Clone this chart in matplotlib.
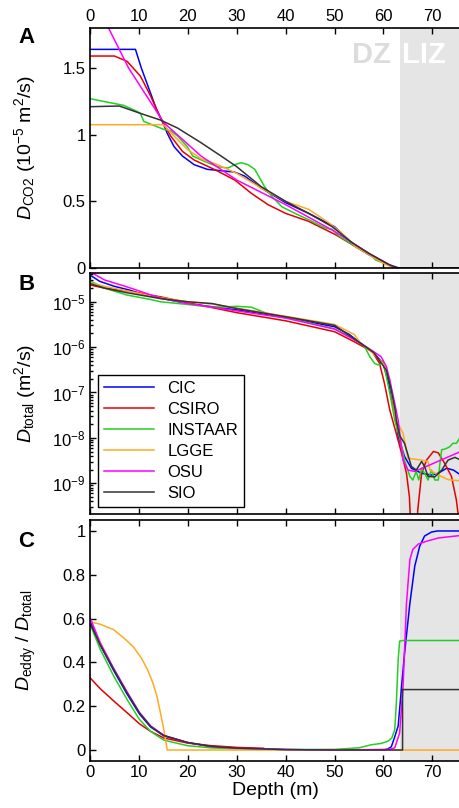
import numpy as np
import matplotlib
matplotlib.use('Agg')
import matplotlib.pyplot as plt
from matplotlib.ticker import FuncFormatter, LogLocator, NullFormatter

plt.rcParams['font.family'] = 'Liberation Sans'
plt.rcParams['mathtext.fontset'] = 'custom'
plt.rcParams['mathtext.rm'] = 'Liberation Sans'
plt.rcParams['mathtext.it'] = 'Liberation Sans:italic'
plt.rcParams['mathtext.bf'] = 'Liberation Sans:bold'

models = ['CIC', 'CSIRO', 'INSTAAR', 'LGGE', 'OSU', 'SIO']
colors = ['#0000ff', '#e60000', '#22d022', '#ffaa22', '#ff00ff', '#333333']
liz_start = 63.3

# panel A: D_CO2 (1e-5 m2/s) vs depth
a_cic_x = [0, 9.3, 10.5, 12, 13.5, 14.8, 15.8, 17.2, 18.9, 21.3, 24, 26.8, 29.5, 31.6, 35, 40, 44.7, 50, 54.3, 57, 60, 62.5, 76]
a_cic_y = [1.64, 1.64, 1.50, 1.35, 1.20, 1.10, 1.01, 0.91, 0.84, 0.775, 0.74, 0.73, 0.72, 0.69, 0.60, 0.49, 0.41, 0.31, 0.16, 0.10, 0.04, 0, 0]
a_csiro_x = [0, 5, 7.6, 10.3, 12.4, 14.4, 16.5, 18.9, 21.3, 25.4, 29.6, 33, 36.4, 40, 44.7, 50.2, 54.3, 58.4, 61.2, 62.5, 76]
a_csiro_y = [1.59, 1.59, 1.55, 1.44, 1.29, 1.125, 0.99, 0.875, 0.81, 0.74, 0.66, 0.56, 0.475, 0.41, 0.35, 0.25, 0.16, 0.075, 0.02, 0, 0]
a_instaar_x = [0, 4.1, 6.9, 9.6, 10.3, 11, 13.7, 15.1, 16.5, 17.9, 19.9, 21, 23.4, 26.1, 28.2, 29.6, 30.9, 32.3, 33.7, 35.7, 37.1, 39.2, 41.9, 45.4, 48.1, 49.5, 50.9, 54.3, 57, 58.4, 59.8, 61.9, 63, 76]
a_instaar_y = [1.27, 1.24, 1.22, 1.175, 1.16, 1.10, 1.06, 1.04, 1.03, 0.99, 0.91, 0.84, 0.80, 0.76, 0.75, 0.775, 0.79, 0.775, 0.74, 0.61, 0.54, 0.46, 0.41, 0.35, 0.30, 0.29, 0.24, 0.16, 0.11, 0.06, 0.04, 0.01, 0, 0]
a_lgge_x = [0, 15, 17.2, 19.9, 22.7, 26.1, 30, 35, 40, 44.7, 48.8, 51.5, 54.3, 57, 60.5, 62.5, 76]
a_lgge_y = [1.075, 1.075, 0.99, 0.89, 0.82, 0.775, 0.71, 0.60, 0.50, 0.44, 0.34, 0.26, 0.16, 0.10, 0.025, 0, 0]
a_osu_x = [0, 3.8, 7.9, 15.1, 22.7, 30, 40, 50, 57, 61.9, 63, 76]
a_osu_y = [2.08, 1.80, 1.50, 1.09, 0.84, 0.66, 0.475, 0.275, 0.11, 0.01, 0, 0]
a_sio_x = [0, 6, 10.3, 14.4, 17.9, 22.7, 26.8, 30, 35, 40, 44.7, 49.5, 53.6, 57, 61.2, 63.2, 76]
a_sio_y = [1.21, 1.215, 1.16, 1.11, 1.05, 0.94, 0.84, 0.76, 0.61, 0.50, 0.41, 0.31, 0.19, 0.11, 0.025, 0, 0]

# panel B: log10 of D_total (m2/s) vs depth
b_cic_x = [0, 2, 5, 8, 11, 14.4, 20, 25, 30, 40, 50, 53, 55.4, 58, 59.9, 60.9, 61.9, 62.6, 63.0, 64.3, 65.7, 67.8, 69.8, 71.2, 72.9, 74.3, 75.8]
b_cic_log = [-4.41, -4.55, -4.66, -4.74, -4.84, -4.92, -5.04, -5.11, -5.18, -5.35, -5.55, -5.72, -5.92, -6.12, -6.36, -6.73, -7.24, -7.61, -7.97, -8.41, -8.67, -8.78, -8.82, -8.78, -8.67, -8.71, -8.82]
b_csiro_x = [0, 3, 7.5, 14.4, 20, 30, 40, 50, 54, 57.7, 59.2, 60.2, 61.3, 62.6, 63.7, 64.7, 65.3, 65.8, 66.6, 67.0, 67.8, 68.8, 70.2, 71.2, 72.5, 73.9, 74.9, 75.4, 75.8]
b_csiro_log = [-4.63, -4.70, -4.76, -4.89, -5.02, -5.24, -5.42, -5.66, -5.88, -6.10, -6.36, -6.80, -7.39, -7.90, -8.34, -8.78, -9.3, -10.5, -10.5, -9.6, -8.78, -8.49, -8.30, -8.33, -8.56, -8.85, -9.37, -9.8, -10.5]
b_instaar_x = [0, 3, 7.5, 12.4, 14.4, 20, 25, 28, 30, 33, 36, 40, 45, 50, 54, 55.4, 56.1, 57.2, 58.2, 59.2, 59.9, 61.3, 62.3, 63.3, 64.3, 65.4, 66.0, 66.7, 67.2, 67.8, 68.4, 69.1, 69.8, 70.5, 71.2, 71.5, 71.9, 72.5, 73.5, 74.2, 74.9, 75.8]
b_instaar_log = [-4.54, -4.70, -4.85, -4.95, -5.0, -5.06, -5.12, -5.11, -5.10, -5.12, -5.25, -5.35, -5.47, -5.60, -5.82, -5.92, -5.98, -6.21, -6.36, -6.40, -6.29, -7.02, -7.61, -8.0, -8.49, -8.85, -8.93, -8.74, -8.93, -8.67, -8.78, -8.93, -8.71, -8.93, -8.93, -8.60, -8.26, -8.25, -8.20, -8.12, -8.12, -7.97]
b_lgge_x = [0, 3, 7.5, 14.4, 20, 25, 30, 40, 50, 54, 55.4, 58, 60.2, 61.3, 61.9, 62.6, 64.0, 65.0, 67.8, 69.1, 69.5, 71.2, 73.2, 75.8]
b_lgge_log = [-4.58, -4.66, -4.76, -4.91, -5.0, -5.05, -5.14, -5.32, -5.50, -5.72, -5.92, -6.15, -6.40, -6.73, -7.17, -7.61, -7.90, -8.45, -8.49, -8.52, -8.71, -8.82, -8.92, -8.95]
b_osu_x = [0, 1, 3, 7.5, 14.4, 20, 30, 40, 50, 55.4, 58, 59.5, 60.6, 61.3, 62.3, 63.0, 64.0, 65.0, 66.4, 75.8]
b_osu_log = [-4.3, -4.4, -4.52, -4.67, -4.92, -5.04, -5.20, -5.36, -5.60, -5.92, -6.10, -6.21, -6.43, -6.73, -7.24, -7.61, -8.49, -8.71, -8.74, -8.30]
b_sio_x = [0, 3, 7.5, 14.4, 20, 25, 30, 40, 50, 55.4, 58, 60.6, 61.6, 62.4, 62.6, 63.3, 64.3, 65.7, 66.7, 67.8, 68.4, 69.1, 70.5, 71.9, 73.2, 74.6, 75.8]
b_sio_log = [-4.60, -4.70, -4.80, -4.93, -5.0, -5.04, -5.15, -5.33, -5.52, -5.92, -6.12, -6.51, -6.95, -7.39, -7.60, -7.95, -8.12, -8.63, -8.71, -8.52, -8.63, -8.85, -8.86, -8.71, -8.49, -8.43, -8.49]

# panel C: D_eddy / D_total vs depth
c_cic_x = [0, 2.1, 4.8, 7.6, 10.1, 12.4, 15.1, 19.9, 24.7, 30, 40, 50, 60, 60.9, 61.6, 62.3, 63.0, 63.7, 64.3, 65.4, 66.4, 67.4, 68.4, 69.8, 71, 76]
c_cic_y = [0.59, 0.48, 0.365, 0.255, 0.165, 0.105, 0.065, 0.034, 0.016, 0.008, 0.002, 0, 0, 0.005, 0.015, 0.06, 0.11, 0.29, 0.44, 0.67, 0.84, 0.93, 0.977, 0.995, 1.0, 1.0]
c_csiro_x = [0, 2.1, 4.8, 7.6, 10.1, 12.4, 15.1, 19.9, 24.7, 30, 35.5]
c_csiro_y = [0.33, 0.28, 0.225, 0.17, 0.12, 0.085, 0.055, 0.032, 0.02, 0.012, 0.008]
c_instaar_x = [0, 2.1, 4.8, 7.6, 10.1, 12.4, 15.1, 19.9, 24.7, 30, 40, 50, 55, 57.5, 59.5, 60.9, 61.7, 62.3, 62.6, 63.0, 63.3, 64, 76]
c_instaar_y = [0.575, 0.46, 0.34, 0.23, 0.14, 0.085, 0.045, 0.02, 0.01, 0.005, 0.002, 0.003, 0.01, 0.024, 0.03, 0.04, 0.055, 0.093, 0.2, 0.41, 0.497, 0.5, 0.5]
c_lgge_x = [0, 2, 4.8, 7, 8.9, 10.5, 11.7, 12.8, 13.7, 14.4, 15.1, 15.8, 76]
c_lgge_y = [0.585, 0.575, 0.55, 0.51, 0.47, 0.42, 0.37, 0.31, 0.245, 0.17, 0.093, 0, 0]
c_osu_x = [0, 2.1, 4.8, 7.6, 10.1, 12.4, 15.1, 19.9, 24.7, 30, 40, 50, 61.2, 62.3, 63.3, 64.0, 64.7, 65.4, 66.0, 67.1, 68.8, 71.2, 76]
c_osu_y = [0.605, 0.49, 0.375, 0.265, 0.172, 0.11, 0.067, 0.034, 0.016, 0.008, 0.002, 0, 0.003, 0.01, 0.078, 0.29, 0.67, 0.87, 0.916, 0.94, 0.953, 0.968, 0.98]
c_sio_x = [0, 2.1, 4.8, 7.6, 10.1, 12.4, 15.1, 19.9, 24.7, 30, 40, 50, 63.9, 63.9, 76]
c_sio_y = [0.58, 0.48, 0.37, 0.26, 0.17, 0.108, 0.066, 0.035, 0.017, 0.009, 0.002, 0, 0, 0.276, 0.276]

a_data = [(a_cic_x, a_cic_y), (a_csiro_x, a_csiro_y), (a_instaar_x, a_instaar_y),
          (a_lgge_x, a_lgge_y), (a_osu_x, a_osu_y), (a_sio_x, a_sio_y)]
b_data = [(b_cic_x, b_cic_log), (b_csiro_x, b_csiro_log), (b_instaar_x, b_instaar_log),
          (b_lgge_x, b_lgge_log), (b_osu_x, b_osu_log), (b_sio_x, b_sio_log)]
c_data = [(c_cic_x, c_cic_y), (c_csiro_x, c_csiro_y), (c_instaar_x, c_instaar_y),
          (c_lgge_x, c_lgge_y), (c_osu_x, c_osu_y), (c_sio_x, c_sio_y)]

TICK = 12
LABEL = 14


def style_axis(ax):
    ax.set_xlim(0, 76)
    ax.axvspan(liz_start, 76, color='#e5e5e5', zorder=0, lw=0)
    for s in ['top', 'bottom', 'left']:
        ax.spines[s].set_linewidth(1.2)
    ax.spines['right'].set_visible(False)
    ax.tick_params(which='both', direction='in', top=True, bottom=True, right=False,
                   labelsize=TICK, width=1, pad=3)
    ax.tick_params(which='major', length=4)
    ax.tick_params(which='minor', length=2)
    ax.set_xticks(np.arange(0, 80, 10))
    ax.yaxis.set_label_coords(-0.14, 0.5)


gfmt = FuncFormatter(lambda v, p: '%g' % v)

fig = plt.figure(figsize=(4.59, 8.08), dpi=100)
ax_a = fig.add_axes([0.196, 0.6683, 0.81, 0.2970])
ax_b = fig.add_axes([0.196, 0.3639, 0.81, 0.2982])
ax_c = fig.add_axes([0.196, 0.0582, 0.81, 0.2982])

# A
style_axis(ax_a)
for (x, y), c in zip(a_data, colors):
    ax_a.plot(x, y, color=c, lw=1.1)
ax_a.set_ylim(0, 1.8)
ax_a.set_yticks([0, 0.5, 1, 1.5])
ax_a.yaxis.set_major_formatter(gfmt)
ax_a.tick_params(labeltop=True, labelbottom=False)
ax_a.set_ylabel(r'$D_{\mathrm{CO2}}$ (10$^{-5}$ m$^2$/s)', fontsize=LABEL)
ax_a.text(57.6, 1.60, 'DZ', color='#dcdcdc', fontsize=21, fontweight='bold', ha='center', va='center')
ax_a.text(68.3, 1.60, 'LIZ', color='white', fontsize=21, fontweight='bold', ha='center', va='center')

# B
style_axis(ax_b)
for (x, lg), c, m in zip(b_data, colors, models):
    ax_b.plot(x, 10 ** np.array(lg), color=c, lw=1.1, label=m)
ax_b.set_yscale('log')
ax_b.set_ylim(2.1e-10, 4.3e-5)
ax_b.yaxis.set_major_locator(LogLocator(base=10, numticks=20))
ax_b.yaxis.set_minor_locator(LogLocator(base=10, subs=np.arange(2, 10), numticks=20))
ax_b.yaxis.set_minor_formatter(NullFormatter())
ax_b.set_yticks([1e-9, 1e-8, 1e-7, 1e-6, 1e-5])
ax_b.tick_params(labelbottom=False)
ax_b.set_ylabel(r'$D_{\mathrm{total}}$ (m$^2$/s)', fontsize=LABEL)
leg = ax_b.legend(loc='lower left', bbox_to_anchor=(0.022, 0.03), borderaxespad=0,
                  fontsize=12, handlelength=3.0, labelspacing=0.36, fancybox=False,
                  edgecolor='black', framealpha=1, borderpad=0.35)
leg.get_frame().set_linewidth(1.0)

# C
style_axis(ax_c)
for (x, y), c in zip(c_data, colors):
    ax_c.plot(x, y, color=c, lw=1.1)
ax_c.set_ylim(-0.05, 1.05)
ax_c.set_yticks([0, 0.2, 0.4, 0.6, 0.8, 1])
ax_c.yaxis.set_major_formatter(gfmt)
ax_c.set_ylabel(r'$D_{\mathrm{eddy}}$ / $D_{\mathrm{total}}$', fontsize=LABEL)
ax_c.set_xlabel('Depth (m)', fontsize=LABEL, labelpad=1)

fig.text(0.057, 0.954, 'A', fontsize=16, fontweight='bold', ha='center', va='center')
fig.text(0.057, 0.6485, 'B', fontsize=16, fontweight='bold', ha='center', va='center')
fig.text(0.057, 0.330, 'C', fontsize=16, fontweight='bold', ha='center', va='center')

fig.savefig('out.png', dpi=100)
